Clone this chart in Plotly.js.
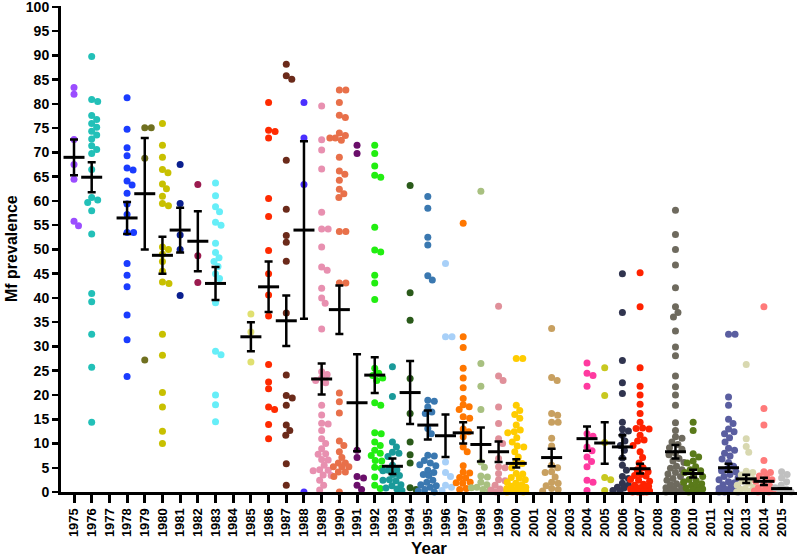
<!DOCTYPE html>
<html>
<head>
<meta charset="utf-8">
<script src="https://cdn.plot.ly/plotly-3.0.1.min.js"></script>
<style>html,body{margin:0;padding:0;background:#fff;}#chart{width:797px;height:559px;}</style>
</head>
<body>
<div id="chart"></div>
<script>
// ---- tick labels (all years on the axis) ----
const yearLabels = ["1975","1976","1977","1978","1979","1980","1981","1982","1983","1984","1985","1986","1987","1988","1989","1990","1991","1992","1993","1994","1995","1996","1997","1998","1999","2000","2001","2002","2003","2004","2005","2006","2007","2008","2009","2010","2011","2012","2013","2014","2015"];
const yTicks = [0,5,10,15,20,25,30,35,40,45,50,55,60,65,70,75,80,85,90,95,100];

// ---- Mf prevalence per survey, by year ----
const v1975 = [83.4, 82.0, 72.7, 67.5, 64.5, 55.8, 54.9];
const v1976 = [89.8, 80.9, 80.5, 77.6, 76.8, 76.0, 75.2, 74.4, 73.6, 72.8, 71.4, 70.6, 69.8, 66.5, 60.7, 60.2, 59.7, 58.0, 53.2, 40.9, 39.2, 32.5, 25.7, 14.4];
const v1978 = [81.3, 74.8, 71.0, 69.3, 66.8, 66.4, 64.1, 63.3, 61.6, 59.4, 57.2, 53.5, 53.5, 47.1, 44.7, 42.3, 36.5, 31.4, 23.8];
const v1979 = [75.1, 75.1, 68.8, 27.2];
const v1980 = [76.0, 71.5, 69.0, 66.5, 65.8, 63.5, 62.5, 61.0, 59.5, 59.0, 50.5, 50.0, 49.0, 47.5, 45.5, 43.0, 43.3, 32.5, 28.2, 20.5, 17.5, 12.5, 10.0];
const v1981 = [67.5, 59.5, 53.0, 50.0, 40.5];
const v1982 = [63.4, 48.7, 43.2];
const v1983 = [63.7, 61.1, 58.8, 57.8, 55.6, 55.0, 51.3, 49.4, 48.3, 47.5, 46.5, 45.0, 44.0, 39.0, 29.0, 28.3, 20.0, 18.0, 14.5];
const v1985 = [36.7, 33.0, 26.8];
const v1986 = [80.3, 74.6, 74.3, 73.0, 60.5, 56.8, 49.8, 45.0, 40.6, 36.3, 26.3, 22.7, 21.3, 17.5, 17.0, 13.9, 11.0];
const v1987 = [88.2, 85.8, 85.1, 68.4, 58.3, 52.9, 51.5, 47.6, 36.9, 24.1, 19.9, 19.4, 17.9, 13.8, 12.7, 11.7, 5.8, 1.4];
const v1988 = [80.3, 73.0, 63.4, 0.0];
const v1989 = [79.6, 72.6, 70.5, 66.6, 57.7, 54.2, 54.2, 50.5, 46.4, 45.7, 42.0, 40.0, 38.9, 33.6, 24.8, 24.2, 23.5, 23.0, 22.5, 17.9, 15.9, 14.2, 14.0, 12.7, 11.0, 10.0, 8.9, 7.9, 7.8, 6.7, 6.6, 5.5, 4.6, 4.5, 4.4, 3.5, 3.4, 2.4, 1.4, 0.4];
const v1990 = [82.9, 82.9, 80.3, 77.7, 77.2, 74.0, 73.5, 73.0, 73.0, 72.5, 69.0, 66.2, 65.5, 64.3, 62.4, 61.5, 60.7, 53.7, 53.7, 43.1, 43.1, 20.4, 18.6, 16.3, 10.5, 9.6, 8.3, 7.1, 6.0, 6.0, 5.2, 5.2, 5.2, 4.1, 4.1, 3.2, 0.0];
const v1991 = [71.5, 69.8, 8.6, 7.1, 3.2, 2.9, 1.4, 0.5];
const v1992 = [71.5, 69.8, 67.2, 65.3, 64.9, 54.6, 49.9, 49.5, 44.7, 43.1, 39.7, 25.5, 24.5, 24.0, 23.5, 23.0, 18.4, 17.9, 12.2, 12.0, 10.3, 9.6, 8.6, 8.0, 7.5, 6.5, 6.4, 5.1, 4.9, 3.1, 1.4, 0.7];
const v1993 = [25.8, 19.7, 10.3, 9.3, 8.2, 8.0, 7.3, 5.5, 4.6, 4.5, 4.4, 3.6, 3.4, 2.5, 2.4, 2.3, 1.5, 1.3, 0.8, 0.6, 0.3];
const v1994 = [63.2, 41.1, 35.4, 23.4, 16.2, 10.3, 7.7, 6.0, 0.9, 0.5];
const v1995 = [60.9, 58.5, 52.5, 50.9, 44.6, 43.7, 18.9, 18.7, 17.5, 16.5, 16.2, 13.1, 12.0, 7.6, 7.4, 6.5, 6.0, 5.6, 5.4, 4.5, 4.0, 3.6, 3.4, 2.4, 2.0, 1.5, 1.3, 1.0, 0.5, 0.2, 0.0];
const v1996 = [47.1, 32.0, 32.0, 6.2, 4.0, 3.2, 1.4, 1.0, 0.3];
const v1997 = [55.4, 32.0, 29.8, 25.5, 23.5, 21.5, 19.3, 18.0, 17.6, 17.0, 15.5, 15.2, 13.0, 12.4, 11.4, 9.3, 8.3, 5.4, 4.1, 3.9, 3.0, 2.9, 2.0, 1.9, 1.8, 0.7, 0.5];
const v1998 = [62.0, 26.5, 21.8, 17.0, 6.2, 5.1, 3.3, 3.1, 2.0, 1.5, 1.0, 0.9, 0.5, 0.3];
const v1999 = [38.3, 23.9, 23.0, 17.5, 14.1, 11.0, 10.0, 6.9, 5.2, 5.0, 3.8, 2.5, 2.3, 1.4, 0.6, 0.4, 0.2, 0.0];
const v2000 = [27.5, 27.5, 17.9, 16.8, 16.0, 15.2, 13.8, 12.8, 12.4, 12.2, 11.2, 10.3, 9.5, 9.3, 8.3, 7.2, 6.0, 5.9, 5.0, 3.8, 3.7, 3.0, 2.9, 2.5, 2.0, 1.8, 1.5, 1.2, 1.0, 0.8, 0.7, 0.5, 0.4, 0.3, 0.2, 0.1, 0.0, 0.0, 0.0];
const v2002 = [33.7, 23.6, 23.0, 16.2, 15.8, 14.4, 14.4, 11.1, 9.5, 5.5, 5.0, 4.2, 4.0, 3.1, 2.0, 1.8, 1.3, 0.7, 0.5, 0.2];
const v2004 = [26.6, 24.5, 24.0, 21.8, 12.0, 11.5, 9.3, 8.5, 7.2, 6.3, 5.2, 2.4, 2.0, 0.3];
const v2005 = [25.6, 19.9, 10.2, 3.0, 2.5, 0.3];
const v2006 = [45.0, 37.0, 27.1, 22.5, 20.3, 14.4, 13.0, 12.6, 11.7, 10.5, 9.6, 8.6, 7.0, 5.5, 4.5, 3.2, 2.8, 1.8, 1.4, 1.0, 0.8, 0.5, 0.3, 0.1];
const v2007 = [45.2, 38.2, 25.6, 21.8, 20.0, 18.1, 16.2, 14.4, 13.2, 13.1, 13.0, 11.7, 10.7, 10.5, 9.6, 8.3, 7.1, 6.0, 5.0, 4.6, 4.2, 3.6, 3.4, 3.3, 2.6, 2.4, 2.2, 1.6, 1.4, 1.2, 0.9, 0.6, 0.4, 0.3, 0.2, 0.1, 0.0, 0.0, 0.0, 0.0];
const v2009 = [58.1, 53.1, 50.0, 46.8, 42.1, 38.2, 37.0, 36.1, 33.2, 29.9, 28.1, 23.9, 21.7, 20.0, 17.9, 14.3, 12.7, 11.4, 11.1, 10.3, 9.8, 9.1, 8.8, 8.0, 7.7, 6.9, 6.4, 6.1, 5.3, 4.9, 4.6, 4.0, 3.7, 3.2, 2.8, 2.4, 2.1, 1.7, 1.5, 1.1, 0.9, 0.6, 0.4, 0.3, 0.1, 0.0, 0.0];
const v2010 = [14.4, 12.7, 7.9, 7.2, 6.4, 6.0, 5.2, 4.6, 4.4, 4.0, 3.5, 3.2, 2.6, 2.3, 2.0, 1.7, 1.4, 1.1, 0.8, 0.6, 0.4, 0.2, 0.0];
const v2012 = [32.5, 32.5, 19.6, 17.9, 15.0, 14.1, 13.0, 12.4, 12.0, 11.2, 10.3, 9.0, 8.6, 8.0, 7.4, 6.8, 6.1, 5.3, 4.8, 4.4, 4.1, 3.6, 3.2, 2.9, 2.5, 2.1, 1.9, 1.5, 1.2, 0.9, 0.7, 0.5, 0.3, 0.2, 0.1, 0.0, 0.0, 0.0];
const v2013 = [26.3, 11.0, 9.4, 8.2, 4.3, 4.0, 3.5, 3.0, 2.6, 2.2, 1.8, 1.4, 1.0, 0.7, 0.5, 0.2, 0.1, 0.0];
const v2014 = [38.2, 17.2, 13.8, 6.5, 4.2, 4.0, 3.3, 3.1, 2.5, 2.2, 1.6, 1.2, 0.9, 0.6, 0.4, 0.2, 0.1, 0.0, 0.0];
const v2015 = [4.2, 3.6, 2.9, 2.1, 1.4, 0.9, 0.6, 0.3, 0.0];

// ---- years with data, their series, colours, means and SEM ----
const dataYears = ["1975","1976","1978","1979","1980","1981","1982","1983","1985","1986","1987","1988","1989","1990","1991","1992","1993","1994","1995","1996","1997","1998","1999","2000","2002","2004","2005","2006","2007","2009","2010","2012","2013","2014","2015"];
const series = [v1975,v1976,v1978,v1979,v1980,v1981,v1982,v1983,v1985,v1986,v1987,v1988,v1989,v1990,v1991,v1992,v1993,v1994,v1995,v1996,v1997,v1998,v1999,v2000,v2002,v2004,v2005,v2006,v2007,v2009,v2010,v2012,v2013,v2014,v2015];
const colors = ["#9b4dff","#22c0b8","#1a3cff","#707020","#c8c000","#0a1f8f","#9b1b4f","#66eef8","#e0e070","#ff2a00","#6b2a1a","#4a2fff","#e890b0","#e8704a","#6a0e6a","#22ee11","#1a9a9a","#2a5a1a","#3a78b0","#a8d0f8","#ff7700","#a8c080","#e0909a","#ffcc00","#c8a060","#ff3aa0","#c8c820","#30344f","#ff2200","#6e6a5e","#5a7a1a","#5a5ea0","#d8d8b0","#ff7a7a","#c0c0c0"];
const means = [69.0,64.9,56.5,61.5,48.8,54.0,51.7,43.0,32.0,42.3,35.3,54.0,23.3,37.6,18.4,24.1,5.3,20.5,13.8,11.6,12.2,9.8,8.3,5.9,7.1,11.0,10.1,9.3,4.8,8.3,3.8,5.0,2.7,2.2,0.7];
const sems  = [3.7,3.1,3.3,11.5,3.8,4.6,6.2,3.4,3.0,5.2,5.2,18.3,3.2,5.0,10.0,3.7,1.6,6.5,3.0,4.4,2.2,3.5,2.1,0.85,1.8,2.5,4.3,2.4,1.0,1.4,0.8,0.85,0.85,0.75,0.0];

// ---- layout geometry ----
const W = 797, H = 559;
const M = {l: 61, r: 0, t: 6, b: 67};
const xRange = [-0.735, 40.87];
const yRange = [0, 100.2];
const pxPerX = (W - M.l - M.r) / (xRange[1] - xRange[0]);
const pxPerY = (H - M.t - M.b) / (yRange[1] - yRange[0]);

// deterministic beeswarm offsets (in category units), computed from values
function swarm(vals) {
  const d = 6.2, maxOff = 9.5, step = 0.5;
  const placed = [];
  const out = new Array(vals.length).fill(0);
  const order = vals.map((v, i) => i).sort((a, b) => vals[b] - vals[a]);
  for (const i of order) {
    const y = vals[i] * pxPerY;
    let best = null, bestScore = -1, bestX = 0;
    for (let k = 0; k * step <= maxOff && best === null; k++) {
      const cands = k === 0 ? [0] : [k * step, -k * step];
      for (const x of cands) {
        let minD = Infinity;
        for (const p of placed) {
          const dx = p.x - x, dy = p.y - y;
          minD = Math.min(minD, Math.sqrt(dx * dx + dy * dy));
        }
        if (minD >= d) { best = x; break; }
        if (minD > bestScore) { bestScore = minD; bestX = x; }
      }
    }
    if (best === null) best = bestX;
    placed.push({x: best, y: y});
    out[i] = best / pxPerX;
  }
  return out;
}

const traces = [];
dataYears.forEach((yr, gi) => {
  const idx = yearLabels.indexOf(yr);
  const vals = series[gi];
  const offs = swarm(vals);
  traces.push({
    type: 'scatter', mode: 'markers',
    x: offs.map(o => idx + o), y: vals,
    marker: {color: colors[gi], size: 7, line: {width: 0}},
    cliponaxis: false, hoverinfo: 'y', showlegend: false
  });
});
traces.push({
  type: 'scatter', mode: 'markers',
  x: dataYears.map(y => yearLabels.indexOf(y)), y: means,
  marker: {symbol: 'line-ew', size: 15, color: '#000', line: {color: '#000', width: 3}},
  error_y: {type: 'data', array: sems, visible: true, color: '#000', thickness: 2.5, width: 4},
  cliponaxis: false, showlegend: false
});

const FONT = 'Liberation Sans, Arial, sans-serif';
const layout = {
  width: W, height: H,
  margin: M,
  paper_bgcolor: '#fff', plot_bgcolor: '#fff',
  showlegend: false,
  xaxis: {
    range: xRange, tickmode: 'array',
    tickvals: yearLabels.map((y, i) => i), ticktext: yearLabels,
    tickangle: -90, ticks: 'outside', ticklen: 8, tickwidth: 3, tickcolor: '#000',
    showline: true, linewidth: 3, linecolor: '#000', showgrid: false, zeroline: false,
    ticklabeloverflow: 'allow',
    tickfont: {family: FONT, size: 13, color: '#000', weight: 'bold'},
    title: {text: 'Year', font: {family: FONT, size: 17, color: '#000', weight: 'bold'}, standoff: 6}
  },
  yaxis: {
    range: yRange, tickmode: 'array', tickvals: yTicks, ticktext: yTicks.map(String),
    ticks: 'outside', ticklen: 6, tickwidth: 2.5, tickcolor: '#000',
    showline: true, linewidth: 3, linecolor: '#000', showgrid: false, zeroline: false,
    ticklabeloverflow: 'allow',
    tickfont: {family: FONT, size: 14, color: '#000', weight: 'bold'}
  },
  annotations: [{
    text: 'Mf prevalence', textangle: -90, showarrow: false,
    xref: 'paper', yref: 'paper', x: (11 - M.l) / (W - M.l - M.r), y: 0.5,
    xanchor: 'center', yanchor: 'middle',
    font: {family: FONT, size: 16, color: '#000', weight: 'bold'}
  }]
};
Plotly.newPlot('chart', traces, layout, {displayModeBar: false, staticPlot: true});
</script>
</body>
</html>
